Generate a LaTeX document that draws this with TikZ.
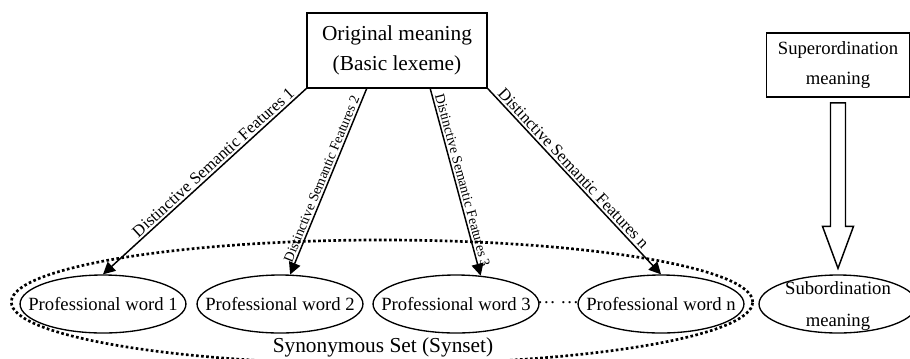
\documentclass[tikz,border=0pt]{standalone}
\usepackage{fontspec}
\setmainfont{Liberation Serif}
\usetikzlibrary{shapes.geometric, arrows.meta, positioning, calc}

\begin{document}
\begin{tikzpicture}[x=0.75pt, y=-0.75pt,
            box/.style   ={rectangle, draw, line width=1.2pt, inner sep=0pt, align=center},
            word/.style  ={ellipse, draw, line width=1pt, inner xsep=-12pt, inner ysep=0pt,
                           minimum width=122pt, minimum height=43.5pt, font=\fontsize{14}{16}\selectfont},
            synset/.style={ellipse, draw, line width=2pt, dash pattern=on 2pt off 1.8pt,
                           inner sep=0pt, minimum width=556pt, minimum height=93pt},
            arr/.style   ={-{Triangle[length=9pt, width=9pt]}, line width=1.1pt},
            feat/.style  ={sloped, above, inner sep=1.5pt, font=\fontsize{12.5}{14}\selectfont},
            featsm/.style={feat, font=\fontsize{10.5}{12}\selectfont},
            hollow/.style={draw, line width=1.1pt, fill=white}
        ]
            \useasboundingbox (0,0) rectangle (910,358);

            % synonym set round the words
            \node[synset] (set) at (382,302) {};
            \node[font=\fontsize{16}{18}\selectfont] (setlbl) at (383,347) {Synonymous Set (Synset)};

            \node[box, minimum width=135pt, minimum height=56pt, font=\fontsize{16}{22.5}\selectfont]
                  (orig) at (397,50.5) {Original meaning\\(Basic lexeme)};

            \node[word] (w1) at (103,304) {Professional word 1};
            \node[word] (w2) at (280,304) {Professional word 2};
            \node[word] (w3) at (456,304) {Professional word 3};
            \node[word] (wn) at (661,304) {Professional word n};
            \node[font=\fontsize{14}{16}\selectfont] (dots) at (558,303) {\dots\ \dots};

            \coordinate (o2) at ($(orig.south west)!0.333!(orig.south east)$);
            \coordinate (o3) at ($(orig.south west)!0.683!(orig.south east)$);

            \draw[arr] (orig.south west) -- node[feat, pos=0.43]{Distinctive Semantic Features 1} (w1.north);
            \draw[arr] (o2) -- node[featsm, pos=0.5]{Distinctive Semantic Features 2} (w2.71);
            \draw[arr] (o3) -- node[featsm, pos=0.5]{Distinctive Semantic Features 3} (w3.49);
            \draw[arr] (orig.south east) -- node[feat, pos=0.46]{Distinctive Semantic Features n} (wn.north);

            % right part
            \node[box, minimum width=107pt, minimum height=48pt, font=\fontsize{14}{22.5}\selectfont]
                  (sup) at (838,65) {Superordination\\meaning};
            \node[word, inner sep=0pt, minimum width=118.5pt] (sub) at (838,304) {};
            \node[align=center, font=\fontsize{14}{24}\selectfont] (subtxt) at (838,306) {Subordination\\meaning};

            \draw[hollow] ($(sup.south)+(-7.5,5)$) -- ($(sub.north)+(-7.5,-48)$)
                  -- ($(sub.north)+(-15.5,-48)$) -- ($(sub.north)+(0,-6)$)
                  -- ($(sub.north)+(15.5,-48)$) -- ($(sub.north)+(7.5,-48)$)
                  -- ($(sup.south)+(7.5,5)$) -- cycle;

        \end{tikzpicture}
\end{document}
